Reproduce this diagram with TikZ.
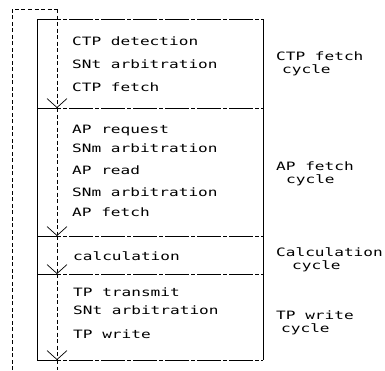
\documentclass[tikz,border=0pt]{standalone}
\usepackage{fontspec}
\setmonofont[FakeStretch=1.4]{DejaVu Sans Mono}
\usetikzlibrary{arrows.meta}

\begin{document}
\begin{tikzpicture}[x=1pt,y=-1pt,>={Straight Barb[length=9pt,width=20pt]},
    item/.style={anchor=west,inner sep=0pt,text height=8pt,text depth=0pt,
      font=\ttfamily\fontsize{11.5}{12.5}\selectfont},
    cyclename/.style={anchor=west,inner sep=0pt,align=left,
      font=\ttfamily\fontsize{11.5}{12.5}\selectfont},
    divider/.style={line width=0.8pt,dash pattern=on 24pt off 2pt on 4pt off 2pt},
    flow/.style={line width=0.7pt,dash pattern=on 4pt off 2.5pt}]
    \useasboundingbox (0,0) rectangle (385,370);

    % corners of the box and the lines between the cycles
    \coordinate (tl) at (37,19);
    \coordinate (tr) at (263,19);
    \coordinate (d1l) at (37,108);
    \coordinate (d1r) at (263,108);
    \coordinate (d2l) at (37,236);
    \coordinate (d2r) at (263,236);
    \coordinate (d3l) at (37,274);
    \coordinate (d3r) at (263,274);
    \coordinate (bl) at (37,360);
    \coordinate (br) at (263,360);

    % points on the flow line
    \coordinate (f0) at (57,9);
    \coordinate (f1) at (57,108);
    \coordinate (f2) at (57,236);
    \coordinate (f3) at (57,274);
    \coordinate (f4) at (57,360);
    \coordinate (fend) at (57,370);
    \coordinate (ltop) at (12,9);
    \coordinate (lend) at (12,370);

    \draw[line width=0.8pt] (tl) -- (bl);
    \draw[line width=0.8pt] (tr) -- (br);
    \draw[divider] (tl) -- (tr);
    \draw[divider] (d1l) -- (d1r);
    \draw[divider] (d2l) -- (d2r);
    \draw[divider] (d3l) -- (d3r);
    \draw[divider] (bl) -- (br);

    % CTP fetch cycle
    \node[item] (ctpdet) at (72,41) {CTP detection};
    \node[item] (snt1) at (72,64) {SNt arbitration};
    \node[item] (ctpfetch) at (72,87) {CTP fetch};
    % AP fetch cycle
    \node[item] (apreq) at (72,129) {AP request};
    \node[item] (snm1) at (72,148) {SNm arbitration};
    \node[item] (apread) at (72,170) {AP read};
    \node[item] (snm2) at (72,192) {SNm arbitration};
    \node[item] (apfetch) at (72,212) {AP fetch};
    % calculation cycle
    \node[item] (calc) at (73,256) {calculation};
    % TP write cycle
    \node[item] (tptrans) at (73,292) {TP transmit};
    \node[item] (snt2) at (73,310) {SNt arbitration};
    \node[item] (tpwrite) at (73,334) {TP write};

    \node[cyclename] (ctpcyc) at (276,64) {CTP fetch\\\hspace*{6pt}cycle};
    \node[cyclename] (apcyc) at (276,174) {AP fetch\\\hspace*{10pt}cycle};
    \node[cyclename] (calccyc) at (276,260) {Calculation\\\hspace*{16pt}cycle};
    \node[cyclename] (tpcyc) at (276,323) {TP write\\\hspace*{5pt}cycle};

    \draw[flow,->] (f0) -- (f1);
    \draw[flow,->] (f1) -- (f2);
    \draw[flow,->] (f2) -- (f3);
    \draw[flow,->] (f3) -- (f4);
    \draw[flow] (f4) -- (fend);
    \draw[flow] (lend) -- (ltop) -- (f0);
\end{tikzpicture}
\end{document}
